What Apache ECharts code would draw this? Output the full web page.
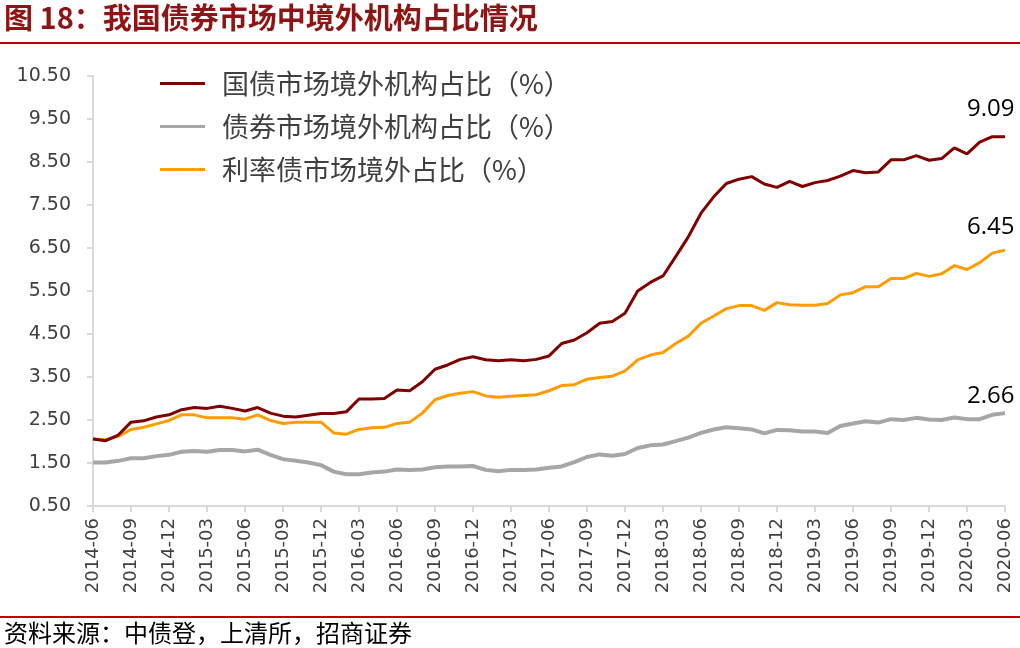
<!DOCTYPE html>
<html><head><meta charset="utf-8">
<script src="https://cdn.jsdelivr.net/npm/echarts@6/dist/echarts.min.js"></script>
<style>html,body{margin:0;padding:0;background:#fff}#c{width:1020px;height:648px}</style>
</head><body><div id="c"></div>
<script>
const months = [];
for (let y = 2014; y <= 2020; y++) for (let m = 1; m <= 12; m++) {
  if ((y === 2014 && m < 6) || (y === 2020 && m > 6)) continue;
  months.push(y + '-' + String(m).padStart(2, '0'));
}
const govForeign = [2.06,2.02,2.15,2.45,2.48,2.57,2.62,2.74,2.79,2.77,2.82,2.77,2.71,2.79,2.66,2.59,2.57,2.61,2.65,2.65,2.69,2.99,2.99,3.00,3.20,3.18,3.39,3.68,3.78,3.91,3.97,3.90,3.88,3.90,3.88,3.91,3.99,4.28,4.36,4.53,4.75,4.79,4.98,5.50,5.70,5.85,6.30,6.76,7.31,7.69,8.00,8.10,8.16,7.99,7.91,8.05,7.93,8.02,8.07,8.17,8.30,8.25,8.27,8.55,8.55,8.65,8.54,8.58,8.83,8.69,8.96,9.09,9.09];
const bondForeign = [1.51,1.51,1.55,1.61,1.61,1.66,1.69,1.76,1.78,1.76,1.80,1.80,1.77,1.81,1.69,1.59,1.55,1.51,1.45,1.30,1.24,1.24,1.28,1.30,1.35,1.34,1.35,1.40,1.42,1.42,1.43,1.34,1.31,1.34,1.34,1.35,1.39,1.42,1.52,1.64,1.70,1.67,1.71,1.85,1.91,1.93,2.01,2.09,2.20,2.28,2.33,2.31,2.28,2.19,2.27,2.26,2.23,2.23,2.20,2.36,2.42,2.47,2.44,2.52,2.50,2.55,2.51,2.50,2.56,2.52,2.52,2.62,2.66];
const rateForeign = [2.06,2.04,2.12,2.28,2.33,2.41,2.49,2.62,2.62,2.55,2.55,2.55,2.52,2.62,2.49,2.42,2.45,2.45,2.45,2.20,2.17,2.28,2.32,2.33,2.42,2.45,2.66,2.97,3.07,3.12,3.16,3.06,3.03,3.05,3.07,3.09,3.18,3.30,3.32,3.45,3.49,3.52,3.64,3.90,4.01,4.07,4.28,4.45,4.75,4.92,5.09,5.16,5.16,5.05,5.23,5.18,5.17,5.17,5.21,5.41,5.46,5.60,5.60,5.79,5.79,5.91,5.84,5.90,6.09,6.00,6.16,6.38,6.45];
const seriesNames = ['国债市场境外机构占比（%）','债券市场境外机构占比（%）','利率债市场境外占比（%）'];
const titleText = '图 18：我国债券市场中境外机构占比情况';
const sourceText = '资料来源：中债登，上清所，招商证券';

function endLabel(dy) {
  return { show: true, formatter: (p) => Number(p.value).toFixed(2), offset: [-46, dy],
    fontFamily: 'Open Sans', fontSize: 24, color: '#000' };
}

const chart = echarts.init(document.getElementById('c'));
const axisFont = 'DejaVu Sans';
chart.setOption({
  animation: false,
  backgroundColor: '#fff',
  grid: { left: 93, right: 15, top: 76, bottom: 142 },
  legend: {
    orient: 'vertical', left: 155, top: 65, itemWidth: 45, itemHeight: 3, itemGap: 16, icon: 'rect',
    textStyle: { fontFamily: 'Noto Sans CJK SC', fontSize: 27, lineHeight: 24, color: '#404040', padding: [0,0,0,12] },
    data: seriesNames
  },
  graphic: [
    { type: 'text', left: 4, top: 3, style: { text: titleText, fontFamily: 'Noto Sans CJK SC', fontWeight: 'bold', fontSize: 29, fill: '#8E1515' } },
    { type: 'rect', shape: { x: 0, y: 42, width: 1020, height: 2 }, style: { fill: '#C00000' } },
    { type: 'rect', shape: { x: 0, y: 616, width: 1020, height: 2 }, style: { fill: '#C00000' } },
    { type: 'text', left: 4, top: 621, style: { text: sourceText, fontFamily: 'Noto Sans CJK SC', fontSize: 24, fill: '#000' } }
  ],
  xAxis: {
    type: 'category', data: months, boundaryGap: false,
    axisLine: { lineStyle: { color: '#D9D9D9', width: 2 } },
    axisTick: { show: true, interval: 2, length: 6, lineStyle: { color: '#D9D9D9', width: 2 } },
    axisLabel: { interval: 2, rotate: 90, fontFamily: axisFont, fontSize: 18, color: '#404040', margin: 12 }
  },
  yAxis: {
    type: 'value', min: 0.5, max: 10.5, interval: 1,
    splitLine: { show: false },
    axisLine: { show: true, lineStyle: { color: '#D9D9D9', width: 2 } },
    axisTick: { show: true, length: 6, lineStyle: { color: '#D9D9D9', width: 2 } },
    axisLabel: { formatter: (v) => v.toFixed(2), fontFamily: axisFont, fontSize: 19, color: '#404040', margin: 22 }
  },
  series: [
    { name: seriesNames[0], type: 'line', data: govForeign, symbol: 'none', lineStyle: { color: '#800000', width: 3 }, itemStyle: { color: '#800000' }, z: 3, endLabel: endLabel(-27) },
    { name: seriesNames[1], type: 'line', data: bondForeign, symbol: 'none', lineStyle: { color: '#A6A6A6', width: 4 }, itemStyle: { color: '#A6A6A6' }, z: 1, endLabel: endLabel(-17) },
    { name: seriesNames[2], type: 'line', data: rateForeign, symbol: 'none', lineStyle: { color: '#FF9C00', width: 3 }, itemStyle: { color: '#FF9C00' }, z: 2, endLabel: endLabel(-23) }
  ]
});
</script></body></html>
